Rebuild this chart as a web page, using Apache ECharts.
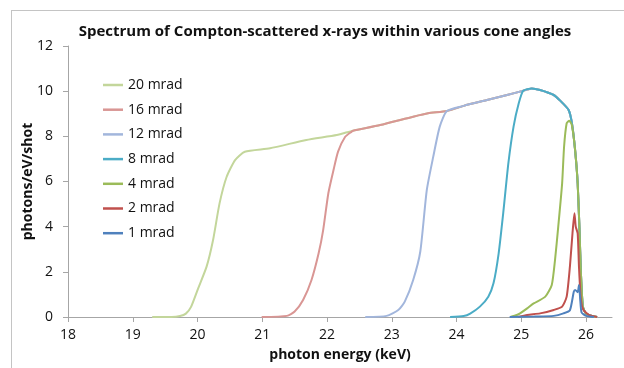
<!DOCTYPE html>
<html>
<head>
<meta charset="utf-8">
<script src="https://cdn.jsdelivr.net/npm/echarts@6/dist/echarts.min.js"></script>
<style>
  html, body { margin: 0; padding: 0; background: #fff; }
  #frame { position: absolute; left: 11px; top: 10px; width: 700px; height: 400px; border: 1px solid #c4c4c4; }
  #chart { position: absolute; left: 0; top: 0; width: 624px; height: 368px; }
</style>
</head>
<body>
<div id="frame"></div>
<div id="chart"></div>
<script>
// photon energy (keV) vs photons/eV/shot
var xTicks = [18, 19, 20, 21, 22, 23, 24, 25, 26]
var seriesNames = ['20 mrad', '16 mrad', '12 mrad', '8 mrad', '4 mrad', '2 mrad', '1 mrad']
var colors = ['#c3d69b', '#d99694', '#a2b6dc', '#4bacc6', '#9bbb59', '#c0504d', '#4f81bd']

// common upper edge + fall-off that every wide cone follows
var envelope = [
  [20.73, 7.32], [21.12, 7.47], [21.68, 7.84], [22.15, 8.06], [22.40, 8.25],
  [22.82, 8.50], [23.33, 8.87], [23.56, 9.02], [23.85, 9.12], [24.11, 9.35],
  [24.47, 9.61], [24.78, 9.83], [25.03, 10.02], [25.16, 10.12], [25.29, 10.05],
  [25.50, 9.83], [25.60, 9.58], [25.73, 9.17], [25.78, 8.60], [25.83, 7.40],
  [25.87, 5.92], [25.90, 3.71], [25.92, 1.94], [25.95, 0.46], [26.00, 0.15],
  [26.10, 0.04], [26.17, 0]
]

var rise20 = [
  [19.30, 0], [19.60, 0], [19.73, 0.04], [19.82, 0.15], [19.90, 0.45], [20.01, 1.27],
  [20.14, 2.23], [20.24, 3.41], [20.34, 5.03], [20.45, 6.21], [20.58, 6.95]
]
var rise16 = [
  [20.99, 0], [21.38, 0.05], [21.50, 0.24], [21.63, 0.75], [21.76, 1.64], [21.87, 2.82],
  [21.94, 3.85], [22.02, 5.48], [22.10, 6.51], [22.17, 7.32], [22.28, 7.98], [22.38, 8.21]
]
var rise12 = [
  [22.59, 0], [22.92, 0.05], [23.10, 0.31], [23.20, 0.68], [23.33, 1.64], [23.44, 2.90],
  [23.54, 5.62], [23.64, 7.10], [23.74, 8.43]
]
var rise8 = [
  [23.90, 0], [24.11, 0.04], [24.21, 0.15], [24.36, 0.46], [24.49, 0.90], [24.57, 1.49],
  [24.65, 2.82], [24.72, 4.59], [24.80, 6.81], [24.88, 8.43], [24.96, 9.46]
]
var rise4 = [
  [24.83, 0], [24.93, 0.09], [24.98, 0.16], [25.09, 0.38], [25.19, 0.60], [25.37, 0.90],
  [25.47, 1.42], [25.52, 2.52], [25.57, 4.00], [25.63, 5.92], [25.66, 7.54],
  [25.70, 8.58], [25.74, 8.69], [25.78, 8.50]
]
var data2 = [
  [24.95, 0], [25.09, 0.09], [25.29, 0.16], [25.50, 0.31], [25.63, 0.46], [25.70, 0.90],
  [25.75, 2.23], [25.79, 3.71], [25.82, 4.59], [25.84, 4.00], [25.87, 3.70], [25.89, 2.23],
  [25.92, 0.75], [25.96, 0.31], [26.05, 0.08], [26.17, 0]
]
var data1 = [
  [24.82, 0], [25.20, 0.02], [25.50, 0.05], [25.65, 0.16], [25.75, 0.30], [25.81, 1.12],
  [25.83, 1.20], [25.87, 1.10], [25.89, 1.42], [25.91, 0.75], [25.93, 0.20], [26.00, 0.05],
  [26.12, 0]
]

function joinEnvelope(rise) {
  var last = rise[rise.length - 1][0]
  return rise.concat(envelope.filter(function (p) { return p[0] > last }))
}

var seriesData = [
  joinEnvelope(rise20),
  joinEnvelope(rise16),
  joinEnvelope(rise12),
  joinEnvelope(rise8),
  joinEnvelope(rise4),
  data2,
  data1
]

var font = '"Open Sans", "Liberation Sans", sans-serif'
var axisColor = '#a6a6a6'

var series = seriesNames.map(function (name, i) {
  return {
    name: name,
    type: 'line',
    symbol: 'none',
    smooth: 0.2,
    data: seriesData[i],
    lineStyle: { width: 2, color: colors[i] },
    itemStyle: { color: colors[i] }
  }
})

var chart = echarts.init(document.getElementById('chart'), null, { renderer: 'canvas' })
chart.setOption({
  animation: false,
  color: colors,
  title: {
    text: 'Spectrum of Compton-scattered x-rays within various cone angles',
    left: 320,
    textAlign: 'center',
    top: 19,
    textStyle: { fontFamily: font, fontSize: 15, fontWeight: 'bold', color: '#111' }
  },
  legend: {
    orient: 'vertical',
    left: 98,
    top: 72,
    icon: 'rect',
    itemWidth: 20,
    itemHeight: 2.5,
    itemGap: 8.7,
    data: seriesNames,
    textStyle: { fontFamily: font, fontSize: 14, color: '#111', lineHeight: 16 }
  },
  grid: { left: 68, right: 12, top: 46, bottom: 51, containLabel: false },
  xAxis: {
    type: 'value',
    min: 18,
    max: 26.4,
    interval: 1,
    name: 'photon energy (keV)',
    nameLocation: 'middle',
    nameGap: 31,
    nameMoveOverlap: false,
    nameTextStyle: { fontFamily: font, fontSize: 14, fontWeight: 'bold', color: '#111' },
    splitLine: { show: false },
    axisLine: { lineStyle: { color: axisColor, width: 1 } },
    axisTick: { show: true, length: 5, lineStyle: { color: axisColor }, customValues: xTicks },
    axisLabel: { fontFamily: font, fontSize: 14, color: '#111', margin: 11, customValues: xTicks }
  },
  yAxis: {
    type: 'value',
    min: 0,
    max: 12,
    interval: 2,
    name: 'photons/eV/shot',
    nameLocation: 'middle',
    nameRotate: 90,
    nameGap: 33,
    nameMoveOverlap: false,
    nameTextStyle: { fontFamily: font, fontSize: 14, fontWeight: 'bold', color: '#111' },
    splitLine: { show: false },
    axisLine: { show: true, lineStyle: { color: axisColor, width: 1 } },
    axisTick: { show: true, length: 5, lineStyle: { color: axisColor } },
    axisLabel: { fontFamily: font, fontSize: 14, color: '#111', margin: 15 }
  },
  series: series
})
</script>
</body>
</html>
